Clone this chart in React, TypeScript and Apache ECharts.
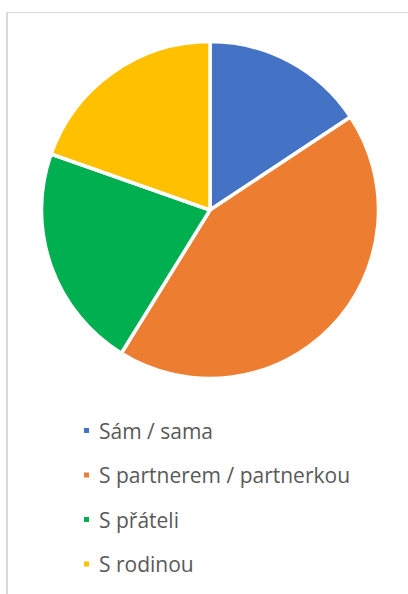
import React, { useEffect, useRef } from "react";
import * as echarts from "echarts";

const categories = ["Sám / sama", "S partnerem / partnerkou", "S přáteli", "S rodinou"];
const values = [16, 44, 22, 20];
const colors = ["#4472C4", "#ED7D31", "#00B050", "#FFC000"];

export default function App() {
  const ref = useRef<HTMLDivElement>(null);
  useEffect(() => {
    if (!ref.current) return;
    const chart = echarts.init(ref.current, undefined, { renderer: "svg" });
    chart.setOption({
      animation: false,
      backgroundColor: "#ffffff",
      color: colors,
      legend: {
        orient: "vertical",
        left: 82,
        top: 420,
        padding: 0,
        itemWidth: 7,
        itemHeight: 7,
        itemGap: 23.5,
        icon: "rect",
        selectedMode: false,
        textStyle: {
          fontFamily: "'Open Sans', sans-serif",
          fontSize: 21,
          color: "#595959",
          padding: [0, 0, 0, 4],
        },
        data: categories,
      },
      graphic: [
        {
          type: "line",
          shape: { x1: 7, y1: 12.5, x2: 408, y2: 12.5 },
          style: { stroke: "#d9d9d9", lineWidth: 1 },
          silent: true,
        },
        {
          type: "line",
          shape: { x1: 7, y1: 12, x2: 7, y2: 594 },
          style: { stroke: "#d9d9d9", lineWidth: 2 },
          silent: true,
        },
      ],
      series: [
        {
          type: "pie",
          center: [210, 210],
          radius: 168.5,
          startAngle: 90,
          clockwise: true,
          label: { show: false },
          labelLine: { show: false },
          emphasis: { disabled: true },
          itemStyle: { borderColor: "#ffffff", borderWidth: 3.5 },
          data: categories.map((name, i) => ({ name, value: values[i] })),
        },
      ],
    });
    return () => chart.dispose();
  }, []);
  return (
    <div
      ref={ref}
      style={{ position: "absolute", left: 0, top: 0, width: 408, height: 594 }}
    />
  );
}
